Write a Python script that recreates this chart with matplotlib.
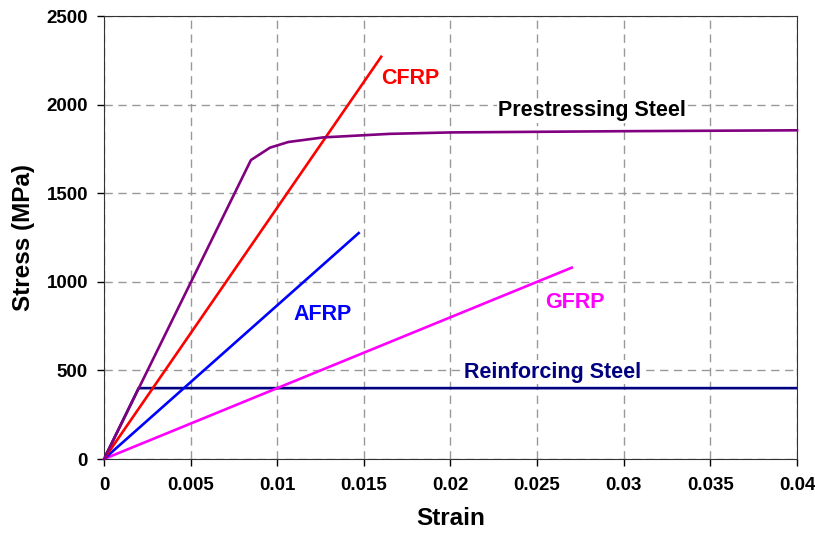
import matplotlib
matplotlib.use('Agg')
import matplotlib.pyplot as plt

plt.rcParams['font.family'] = ['Liberation Sans', 'DejaVu Sans']
plt.rcParams['font.weight'] = 'bold'

# stress-strain curves
cfrp_strain = [0, 0.0160]
cfrp_stress = [0, 2270]
afrp_strain = [0, 0.0147]
afrp_stress = [0, 1275]
gfrp_strain = [0, 0.0270]
gfrp_stress = [0, 1080]
pre_strain = [0, 0.00848, 0.00958, 0.01064, 0.01266, 0.0165, 0.02, 0.03, 0.04]
pre_stress = [0, 1687, 1757, 1789, 1815, 1835, 1843, 1850, 1855]
rebar_strain = [0, 0.002, 0.04]
rebar_stress = [0, 400, 400]

fig = plt.figure(figsize=(8.15, 5.39), dpi=100)
ax = fig.add_axes([0.1276, 0.1484, 0.8503, 0.8219])

lw = 1.9
ax.plot(rebar_strain, rebar_stress, color='#000080', lw=lw, zorder=3)
ax.plot(gfrp_strain, gfrp_stress, color='#FF00FF', lw=lw, zorder=3)
ax.plot(afrp_strain, afrp_stress, color='#0000FF', lw=lw, zorder=3)
ax.plot(cfrp_strain, cfrp_stress, color='#FF0000', lw=lw, zorder=3)
ax.plot(pre_strain, pre_stress, color='#800080', lw=lw, zorder=4, clip_on=False)

box = dict(facecolor='white', edgecolor='none', pad=1)
lab = dict(fontsize=15.5, fontweight='bold', ha='center', va='center', zorder=5)
ax.text(0.01766, 2150, 'CFRP', color='#FF0000', bbox=box, **lab)
ax.text(0.02817, 1964, 'Prestressing Steel', color='black', bbox=box, **lab)
ax.text(0.01264, 813, 'AFRP', color='#0000FF', bbox=box, **lab)
ax.text(0.02719, 886, 'GFRP', color='#FF00FF', bbox=box, **lab)
ax.text(0.02592, 491, 'Reinforcing Steel', color='#000080', bbox=box, **lab)

ax.set_xlim(0, 0.04)
ax.set_ylim(0, 2500)
ax.set_xticks([0, 0.005, 0.01, 0.015, 0.02, 0.025, 0.03, 0.035, 0.04])
ax.set_xticklabels(['0', '0.005', '0.01', '0.015', '0.02', '0.025', '0.03', '0.035', '0.04'])
ax.set_yticks([0, 500, 1000, 1500, 2000, 2500])
ax.tick_params(labelsize=13.5, direction='out', length=5, width=1)
ax.tick_params(axis='x', pad=8)
ax.tick_params(axis='y', pad=6.5)
ax.grid(True, color='#999999', linestyle=(0, (6, 4)), linewidth=1)
ax.set_axisbelow(True)
for s in ax.spines.values():
    s.set_color('#333333')

ax.set_xlabel('Strain', fontsize=17.5, fontweight='bold', labelpad=9)
ax.set_ylabel('Stress (MPa)', fontsize=17.5, fontweight='bold', labelpad=8)

fig.savefig('out.png', dpi=100)
